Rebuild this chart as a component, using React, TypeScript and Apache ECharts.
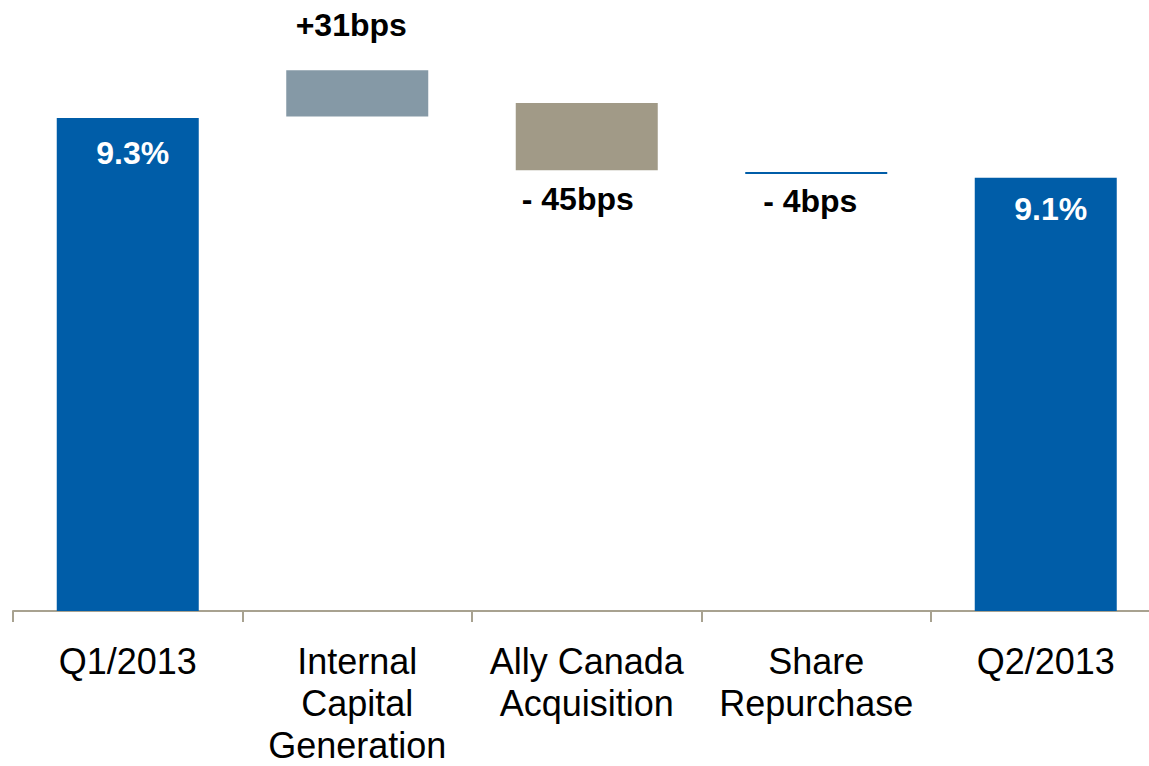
import React, { useEffect, useRef } from "react";
import * as echarts from "echarts";

const categories = [
  "Q1/2013",
  "Internal\nCapital\nGeneration",
  "Ally Canada\nAcquisition",
  "Share\nRepurchase",
  "Q2/2013",
];
// invisible floor of each floating bar (as drawn)
const baseValues = [0, 9.31, 8.95, 8.925, 0];
// visible part of each bar (as drawn)
const deltaValues = [9.3, 0.31, 0.45, 0.014, 8.9];
const valueLabels = ["9.3%", "+31bps", "- 45bps", "- 4bps", "9.1%"];
const barColors = ["#005DA8", "#8599A6", "#A19A87", "#005DA8", "#005DA8"];
const labelPositions = ["insideTop", "top", "bottom", "bottom", "insideTop"];
const labelDistances = [19, 29, 13, 11, 15];
const labelOffsets = [5, -6, -9, -6, 5];
const labelColors = ["#FFFFFF", "#000000", "#000000", "#000000", "#FFFFFF"];

const FONT = "'Liberation Sans', Arial, sans-serif";

export default function App() {
  const ref = useRef<HTMLDivElement>(null);

  useEffect(() => {
    if (!ref.current) return;
    document.body.style.overflow = "hidden";
    const chart = echarts.init(ref.current, null, { renderer: "svg" });
    chart.setOption({
      animation: false,
      backgroundColor: "#FFFFFF",
      grid: {
        left: 13,
        right: -11.5,
        top: 13.4,
        bottom: 155,
        containLabel: false,
        outerBoundsMode: "none",
      },
      xAxis: {
        type: "category",
        data: categories,
        axisLine: { show: true, lineStyle: { color: "#A8A290", width: 2 } },
        axisTick: { show: true, length: 11, lineStyle: { color: "#A8A290", width: 2 } },
        axisLabel: {
          interval: 0,
          margin: 29,
          color: "#000000",
          fontFamily: FONT,
          fontSize: 36,
          lineHeight: 42,
        },
      },
      yAxis: {
        type: "value",
        min: 6,
        max: 10,
        show: false,
        splitLine: { show: false },
      },
      series: [
        {
          type: "bar",
          stack: "wf",
          barWidth: 142,
          itemStyle: { color: "transparent" },
          emphasis: { disabled: true },
          data: baseValues,
        },
        {
          type: "bar",
          stack: "wf",
          barWidth: 142,
          clip: true,
          data: deltaValues.map((v, i) => ({
            value: v,
            itemStyle: { color: barColors[i] },
            label: {
              show: true,
              formatter: valueLabels[i],
              position: labelPositions[i],
              distance: labelDistances[i],
              offset: [labelOffsets[i], 0],
              color: labelColors[i],
              fontFamily: FONT,
              fontWeight: "bold",
              fontSize: 32,
              lineHeight: 32,
            },
          })),
        },
      ],
    });
    return () => chart.dispose();
  }, []);

  return (
    <div
      ref={ref}
      style={{
        position: "absolute",
        left: 0,
        top: 0,
        width: 1149,
        height: 766,
        overflow: "hidden",
      }}
    />
  );
}
